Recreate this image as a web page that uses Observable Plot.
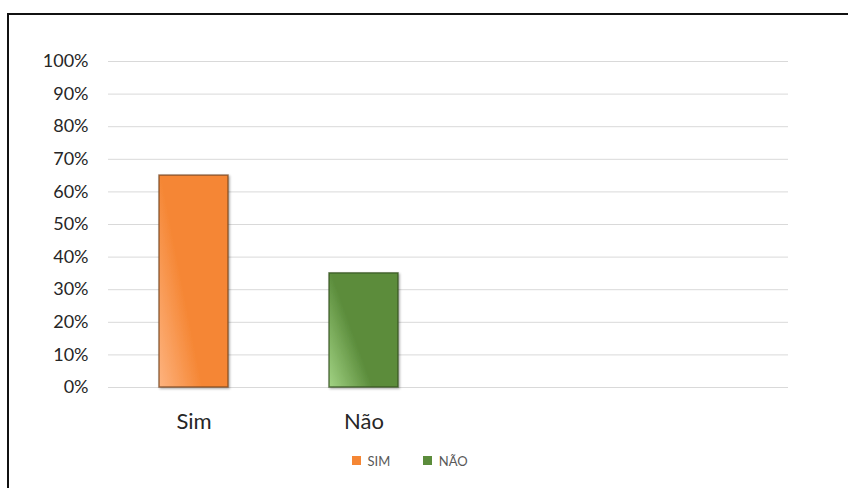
<!DOCTYPE html>
<html>
<head>
<meta charset="utf-8">
<script src="https://cdn.jsdelivr.net/npm/d3@7"></script>
<script src="https://cdn.jsdelivr.net/npm/@observablehq/plot@0.6"></script>
<style>
  html, body { margin: 0; padding: 0; background: #fff; }
  #page { position: relative; width: 848px; height: 488px; overflow: hidden; font-family: Lato, "Open Sans", sans-serif; }
  #frame { position: absolute; left: 7px; top: 13px; right: -4px; bottom: -4px; border-top: 2px solid #111; border-left: 2px solid #111; }
  #chart { position: absolute; left: 0; top: 0; }
  #legend { position: absolute; left: 352px; top: 444px; }
</style>
</head>
<body>
<div id="page">
  <div id="frame"></div>
  <div id="chart"></div>
  <div id="legend"></div>
</div>
<script>
// Data
const categories = ["Sim", "Não"];
const values = [0.65, 0.35];
const xDomain = ["Sim", "Não", "c3", "c4"];           // two empty slots on the right
const yTicks = [0, 0.1, 0.2, 0.3, 0.4, 0.5, 0.6, 0.7, 0.8, 0.9, 1.0];
const legendLabels = ["SIM", "NÃO"];
const legendColors = ["#F58634", "#5B8C3B"];
const barFills = ["url(#gSim)", "url(#gNao)"];
const barStrokes = ["#7a4622", "#33501f"];

const data = categories.map((c, i) => ({cat: c, value: values[i]}));

const chart = Plot.plot({
  width: 848,
  height: 440,
  marginLeft: 108,
  marginRight: 60,
  marginTop: 61,
  marginBottom: 53,
  style: {fontFamily: "Lato, 'Open Sans', sans-serif", color: "#262626", background: "transparent"},
  x: {type: "band", domain: xDomain, paddingInner: 0.595, paddingOuter: 0.2975, axis: null, label: null},
  y: {domain: [0, 1], axis: null, label: null},
  color: {type: "ordinal", domain: categories, range: barFills},
  marks: [
    Plot.gridY(yTicks, {stroke: "#d9d9d9", strokeOpacity: 1, strokeWidth: 1}),
    Plot.axisY(yTicks, {tickSize: 0, tickPadding: 20, fontSize: 18, label: null, tickFormat: d3.format(".0%"), fill: "#262626"}),
    Plot.axisX({tickSize: 0, tickPadding: 26, fontSize: 22, fill: "#262626", label: null,
      tickFormat: d => categories.includes(d) ? d : ""}),
    Plot.barY(data, {x: "cat", y: "value", fill: "cat",
      stroke: d => barStrokes[categories.indexOf(d.cat)], strokeWidth: 1.5, strokeOpacity: 0.75})
  ]
});

// gradients & shadow
const svg = d3.select(chart);
const defs = svg.insert("defs", ":first-child");
function grad(id, light, main) {
  const g = defs.append("linearGradient").attr("id", id)
    .attr("x1", 0).attr("y1", 1).attr("x2", 0.75).attr("y2", 0.55);
  g.append("stop").attr("offset", 0).attr("stop-color", light);
  g.append("stop").attr("offset", 0.62).attr("stop-color", main);
  g.append("stop").attr("offset", 1).attr("stop-color", main);
}
grad("gSim", "#FDB37F", "#F58634");
grad("gNao", "#A2D384", "#5B8C3B");
const f = defs.append("filter").attr("id", "shadow").attr("x", "-10%").attr("y", "-10%").attr("width", "130%").attr("height", "130%");
f.append("feDropShadow").attr("dx", 1.2).attr("dy", 1.2).attr("stdDeviation", 1).attr("flood-color", "#000").attr("flood-opacity", 0.35);
svg.selectAll("g[aria-label='bar'] rect").attr("filter", "url(#shadow)");

document.getElementById("chart").appendChild(chart);

const legend = Plot.legend({
  color: {type: "ordinal", domain: legendLabels, range: legendColors},
  swatchSize: 9,
  swatchWidth: 9,
  swatchHeight: 9,
  style: {fontFamily: "Lato, 'Open Sans', sans-serif", fontSize: "13px", color: "#595959", columnGap: "20px"}
});
document.getElementById("legend").appendChild(legend);
</script>
</body>
</html>
